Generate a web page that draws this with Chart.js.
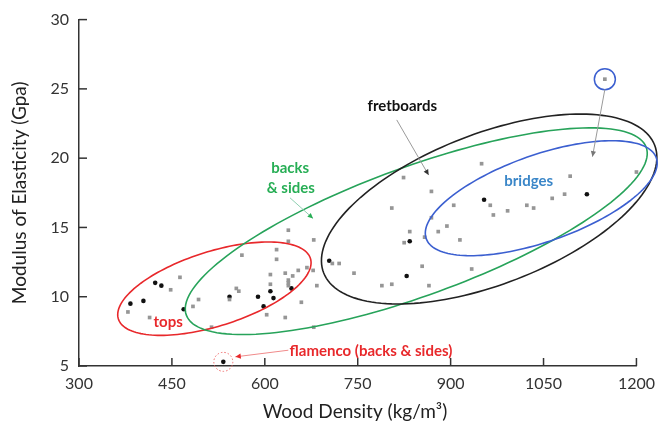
<!DOCTYPE html>
<html>
<head>
<meta charset="utf-8">
<script src="https://cdn.jsdelivr.net/npm/chart.js@4.4.1/dist/chart.umd.min.js"></script>
<style>
  html, body { margin: 0; padding: 0; background: #fff; }
  #wrap { width: 663px; height: 431px; }
</style>
</head>
<body>
<div id="wrap"><canvas id="woodChart" width="663" height="431"></canvas></div>
<script>
// Wood density vs modulus of elasticity for guitar woods
const xTicks = [300, 450, 600, 750, 900, 1050, 1200];
const yTicks = [5, 10, 15, 20, 25, 30];

// grey squares
const greyDensity = [379, 414, 448, 463, 484, 493, 514, 543, 554, 558,
  563, 603, 609, 609, 619, 619, 633, 633, 638, 638,
  638, 638, 638, 645, 654, 659, 668, 678, 679, 679,
  684, 709, 720, 744, 789, 805, 805, 824, 825, 834,
  854, 858, 865, 869, 869, 880, 894, 905, 915, 934,
  950, 964, 969, 992, 1023, 1034, 1064, 1084, 1093, 1200,
  1149];
const greyModulus = [8.9, 8.5, 10.5, 11.4, 9.3, 9.8, 7.8, 9.8, 10.6, 10.4,
  13.0, 8.7, 11.6, 10.9, 13.4, 12.7, 11.7, 8.5, 14.8, 14.0,
  11.2, 11.0, 10.8, 11.5, 11.9, 9.6, 12.1, 11.9, 14.1, 7.8,
  10.8, 12.4, 12.4, 11.7, 10.8, 10.9, 16.4, 18.6, 13.9, 14.7,
  12.2, 14.3, 10.8, 17.6, 15.7, 14.7, 15.1, 16.6, 14.1, 12.0,
  19.6, 16.6, 15.9, 16.2, 16.6, 16.4, 17.1, 17.4, 18.7, 19.0,
  25.7];

// black dots
const blackDensity = [383, 404, 423, 433, 469, 543, 589, 598, 609, 614, 643, 704, 834, 829, 954, 1120, 533];
const blackModulus = [9.5, 9.7, 11.0, 10.8, 9.1, 10.0, 10.0, 9.3, 10.4, 9.9, 10.6, 12.6, 14.0, 11.5, 17.0, 17.4, 5.3];

// group ellipses: centre + two conjugate half-axes, in data units
const groups = [
  { color: '#e8282b', cx: 518.6, cy: 10.58, ux: 155.0, uy: 2.19, vx: 18.4, vy: -2.56 },   // tops
  { color: '#27a35a', cx: 844.5, cy: 14.73, ux: 371.2, uy: 6.06, vx: 36.1, vy: -4.35 },   // backs & sides
  { color: '#222222', cx: 962.2, cy: 16.33, ux: 267.1, uy: 4.62, vx: 44.5, vy: -5.06 },   // fretboards
  { color: '#3b5fd0', cx: 1046.3, cy: 17.11, ux: 185.7, uy: 2.92, vx: 23.5, vy: -2.95 }  // bridges
];

const labels = [
  { text: 'tops', x: 444, y: 8.16, color: '#e8282b', align: 'center' },
  { text: 'flamenco (backs & sides)', x: 640, y: 6.09, color: '#e8282b', align: 'left' },
  { text: 'backs', x: 641, y: 19.28, color: '#27ae55', align: 'center' },
  { text: '& sides', x: 642, y: 17.86, color: '#27ae55', align: 'center' },
  { text: 'fretboards', x: 822, y: 23.77, color: '#111111', align: 'center' },
  { text: 'bridges', x: 1026, y: 18.33, color: '#3a86c8', align: 'center' }
];

const arrows = [
  { from: [813, 22.76], to: [864.5, 18.78], line: '#9a9a9a', head: '#333333' },
  { from: [640.6, 17.14], to: [677.9, 15.65], line: '#8fcfb0', head: '#27ae55' },
  { from: [1149, 24.96], to: [1129, 20.11], line: '#9a9a9a', head: '#777777' },
  { from: [638, 6.14], to: [552.5, 5.66], line: '#f08a8a', head: '#e8282b' }
];

function drawArrow(ctx, x1, y1, x2, y2, lineColor, headColor) {
  ctx.strokeStyle = lineColor;
  ctx.lineWidth = 1;
  ctx.beginPath();
  ctx.moveTo(x1, y1);
  ctx.lineTo(x2, y2);
  ctx.stroke();
  const ang = Math.atan2(y2 - y1, x2 - x1);
  const len = 6;
  ctx.fillStyle = headColor;
  ctx.beginPath();
  ctx.moveTo(x2, y2);
  ctx.lineTo(x2 - len * Math.cos(ang - 0.45), y2 - len * Math.sin(ang - 0.45));
  ctx.lineTo(x2 - len * Math.cos(ang + 0.45), y2 - len * Math.sin(ang + 0.45));
  ctx.closePath();
  ctx.fill();
}

const annotations = {
  id: 'annotations',
  afterDraw(chart) {
    const ctx = chart.ctx;
    const xs = chart.scales.x;
    const ys = chart.scales.y;
    ctx.save();

    // inward tick marks
    ctx.strokeStyle = '#333';
    ctx.lineWidth = 1.5;
    xTicks.forEach(v => {
      const px = xs.getPixelForValue(v);
      ctx.beginPath();
      ctx.moveTo(px, ys.bottom);
      ctx.lineTo(px, ys.bottom - 8);
      ctx.stroke();
    });
    yTicks.forEach(v => {
      const py = ys.getPixelForValue(v);
      ctx.beginPath();
      ctx.moveTo(xs.left, py);
      ctx.lineTo(xs.left + 8, py);
      ctx.stroke();
    });

    // group ellipses
    ctx.lineWidth = 1.6;
    groups.forEach(e => {
      ctx.strokeStyle = e.color;
      ctx.beginPath();
      for (let i = 0; i <= 160; i++) {
        const t = i / 160 * Math.PI * 2;
        const px = xs.getPixelForValue(e.cx + e.ux * Math.cos(t) + e.vx * Math.sin(t));
        const py = ys.getPixelForValue(e.cy + e.uy * Math.cos(t) + e.vy * Math.sin(t));
        if (i === 0) ctx.moveTo(px, py); else ctx.lineTo(px, py);
      }
      ctx.closePath();
      ctx.stroke();
    });

    // circle round the outlier and the flamenco wood
    const last = greyDensity.length - 1;
    ctx.strokeStyle = '#3b5fd0';
    ctx.lineWidth = 1.5;
    ctx.beginPath();
    ctx.arc(xs.getPixelForValue(greyDensity[last]), ys.getPixelForValue(greyModulus[last]), 10.5, 0, Math.PI * 2);
    ctx.stroke();

    const fl = blackDensity.length - 1;
    ctx.strokeStyle = '#ee6a6a';
    ctx.lineWidth = 1;
    ctx.setLineDash([1.5, 2]);
    ctx.beginPath();
    ctx.arc(xs.getPixelForValue(blackDensity[fl]), ys.getPixelForValue(blackModulus[fl]), 9.5, 0, Math.PI * 2);
    ctx.stroke();
    ctx.setLineDash([]);

    arrows.forEach(a => {
      drawArrow(ctx,
        xs.getPixelForValue(a.from[0]), ys.getPixelForValue(a.from[1]),
        xs.getPixelForValue(a.to[0]), ys.getPixelForValue(a.to[1]),
        a.line, a.head);
    });

    ctx.font = 'bold 15px Lato';
    ctx.textBaseline = 'middle';
    labels.forEach(l => {
      ctx.fillStyle = l.color;
      ctx.textAlign = l.align;
      ctx.fillText(l.text, xs.getPixelForValue(l.x), ys.getPixelForValue(l.y));
    });

    // axis titles
    ctx.fillStyle = '#222';
    ctx.font = '19px Lato';
    ctx.textAlign = 'center';
    ctx.fillText('Wood Density (kg/m³)', 355, 412);
    ctx.translate(20, (ys.top + ys.bottom) / 2);
    ctx.rotate(-Math.PI / 2);
    ctx.fillText('Modulus of Elasticity (Gpa)', 0, 0);
    ctx.restore();
  }
};

new Chart(document.getElementById('woodChart'), {
  type: 'scatter',
  data: {
    datasets: [
      {
        label: 'grey',
        data: greyDensity.map((x, i) => ({ x: x, y: greyModulus[i] })),
        pointStyle: 'rect',
        pointRadius: 2.6,
        backgroundColor: '#969696',
        borderWidth: 0,
        clip: false
      },
      {
        label: 'black',
        data: blackDensity.map((x, i) => ({ x: x, y: blackModulus[i] })),
        pointStyle: 'circle',
        pointRadius: 2.3,
        backgroundColor: '#111',
        borderWidth: 0,
        clip: false
      }
    ]
  },
  options: {
    responsive: false,
    animation: false,
    devicePixelRatio: 1,
    layout: { padding: { top: 14, right: 22, left: 0, bottom: 0 } },
    plugins: { legend: { display: false }, tooltip: { enabled: false } },
    scales: {
      x: {
        type: 'linear',
        min: 300, max: 1200,
        afterFit: s => { s.height = 65; },
        afterBuildTicks: s => { s.ticks = xTicks.map(v => ({ value: v })); },
        ticks: { padding: 8, color: '#333', font: { family: 'Lato', size: 16 }, callback: v => String(v) },
        grid: { display: false, drawTicks: false },
        border: { display: true, color: '#333', width: 1.5 }
      },
      y: {
        type: 'linear',
        min: 5, max: 30,
        afterFit: s => { s.width = 79; },
        afterBuildTicks: s => { s.ticks = yTicks.map(v => ({ value: v })); },
        ticks: { padding: 10, color: '#333', font: { family: 'Lato', size: 16 }, callback: v => String(v) },
        grid: { display: false, drawTicks: false },
        border: { display: true, color: '#333', width: 1.5 }
      }
    }
  },
  plugins: [annotations]
});
</script>
</body>
</html>
